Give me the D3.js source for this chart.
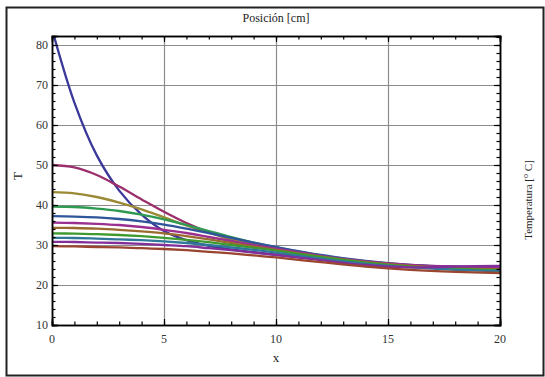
<!DOCTYPE html>
<html><head><meta charset="utf-8">
<script src="https://cdn.jsdelivr.net/npm/d3@7"></script>
<style>body{margin:0;background:#fff}svg{display:block}text{font-family:"Liberation Serif","Times New Roman","DejaVu Serif",serif}</style>
</head><body>
<svg id="c" width="545" height="377"></svg>
<script>
// ---- data ----
const xs = [0,1,2,3,4,5,6,7,8,9,10,12,14,16,18,20];
const s0  = [84,65.6,52.4,43.6,37.6,33.5,31.2,29.8,28.9,28.2,27.6,26.5,25.5,24.9,24.6,24.5];
const s1  = [50,49.4,47.5,44.6,41.4,38.3,35.5,33.2,31.4,29.9,28.8,27.0,25.6,24.8,24.5,24.4];
const s2  = [43.2,42.9,42.0,40.6,38.9,36.9,34.9,33.1,31.5,30.2,29.1,27.2,25.8,24.9,24.4,24.2];
const s3  = [39.6,39.5,39.1,38.5,37.6,36.4,35.0,33.5,32.0,30.6,29.4,27.4,25.9,24.9,24.4,24.2];
const s4  = [37.2,37.1,36.9,36.5,35.9,35.1,34.1,33.0,31.8,30.6,29.5,27.5,26.0,25.0,24.5,24.3];
const s5  = [35.6,35.5,35.3,35.0,34.5,33.8,33.0,32.0,31.0,30.0,29.1,27.3,25.9,25.0,24.6,24.5];
const s6  = [34.3,34.25,34.1,33.8,33.4,32.9,32.2,31.4,30.5,29.6,28.8,27.1,25.7,24.8,24.2,23.9];
const s7  = [32.9,32.85,32.7,32.5,32.2,31.8,31.3,30.7,30.0,29.3,28.6,27.0,25.6,24.6,24.0,23.7];
const s8  = [31.8,31.75,31.6,31.4,31.2,30.9,30.5,30.0,29.4,28.8,28.1,26.6,25.3,24.4,23.8,23.5];
const s9  = [30.8,30.75,30.6,30.5,30.3,30.0,29.7,29.2,28.7,28.1,27.5,26.2,25.0,24.4,24.6,24.8];
const s10 = [29.7,29.65,29.5,29.4,29.2,29.0,28.7,28.3,27.9,27.4,26.9,25.7,24.6,23.8,23.3,23.0];
const series = [s0,s1,s2,s3,s4,s5,s6,s7,s8,s9,s10];
const colors = ["#3a3899","#9a2f6c","#9a8a34","#2f9a52","#2f559a","#9a2f90","#9a6a2f","#3e9a2f","#2f789a","#822f9a","#9a452f"];
const xTicks = [0,5,10,15,20];
const yTicks = [10,20,30,40,50,60,70,80];
const xMinor = d3.range(0,21,1);
const yMinor = d3.range(10,83,2);
const xDomain = [0,20];
const yDomain = [10,82.25];

// ---- layout ----
const svg = d3.select("#c");
const L=52, R=500, T=36, B=325;
const x = d3.scaleLinear().domain(xDomain).range([L,R]);
const y = d3.scaleLinear().domain(yDomain).range([B,T]);

// outer border
svg.append("rect").attr("x",6.5).attr("y",7.5).attr("width",537).attr("height",368)
  .attr("fill","none").attr("stroke","#222").attr("stroke-width",2);

// grid
const g = svg.append("g");
g.selectAll("line.gx").data(xTicks.filter(d=>d>0&&d<20)).join("line")
  .attr("x1",d=>x(d)+0.5).attr("x2",d=>x(d)+0.5).attr("y1",T).attr("y2",B)
  .attr("stroke","#8c8c8c").attr("stroke-width",1.2);
g.selectAll("line.gy").data(yTicks.filter(d=>d>10)).join("line")
  .attr("y1",d=>Math.round(y(d))+0.5).attr("y2",d=>Math.round(y(d))+0.5).attr("x1",L).attr("x2",R)
  .attr("stroke","#8c8c8c").attr("stroke-width",1.2);

// curves
svg.append("clipPath").attr("id","clip").append("rect").attr("x",L).attr("y",T).attr("width",R-L).attr("height",B-T);
const line = d3.line().x((d,i)=>x(xs[i])).y(d=>y(d)).curve(d3.curveCatmullRom.alpha(0.5));
svg.append("g").attr("clip-path","url(#clip)").selectAll("path").data(series).join("path")
  .attr("d",line).attr("fill","none").attr("stroke",(d,i)=>colors[i]).attr("stroke-width",2.3);

// frame axes with inward ticks
const axB = d3.axisBottom(x).tickValues(xMinor).tickSize(-3.5).tickFormat("");
const axT = d3.axisTop(x).tickValues(xMinor).tickSize(-3.5).tickFormat("");
const axL = d3.axisLeft(y).tickValues(yMinor).tickSize(-3.5).tickFormat("");
const axR = d3.axisRight(y).tickValues(yMinor).tickSize(-3.5).tickFormat("");
const axBM = d3.axisBottom(x).tickValues(xTicks).tickSize(-6).tickFormat("");
const axTM = d3.axisTop(x).tickValues(xTicks).tickSize(-6).tickFormat("");
const axLM = d3.axisLeft(y).tickValues(yTicks).tickSize(-6).tickFormat("");
const axRM = d3.axisRight(y).tickValues(yTicks).tickSize(-6).tickFormat("");
[[axB,`translate(0,${B})`],[axBM,`translate(0,${B})`],[axT,`translate(0,${T})`],[axTM,`translate(0,${T})`],
 [axL,`translate(${L},0)`],[axLM,`translate(${L},0)`],[axR,`translate(${R},0)`],[axRM,`translate(${R},0)`]]
 .forEach(([a,t])=>{
   const gg = svg.append("g").attr("transform",t).call(a);
   gg.select(".domain").attr("stroke","#000").attr("stroke-width",1.5);
   gg.selectAll(".tick line").attr("stroke","#000").attr("stroke-width",1.2);
 });

// tick labels
svg.append("g").selectAll("text").data(xTicks).join("text")
  .attr("x",d=>x(d)).attr("y",B+18).attr("text-anchor","middle")
  .attr("font-size",12).attr("fill","#333").text(d=>d);
svg.append("g").selectAll("text").data(yTicks).join("text")
  .attr("x",L-4).attr("y",d=>y(d)+4).attr("text-anchor","end")
  .attr("font-size",12).attr("fill","#333").text(d=>d);

// axis titles
svg.append("text").attr("x",276).attr("y",22).attr("text-anchor","middle").attr("font-size",12).attr("fill","#222").text("Posición [cm]");
svg.append("text").attr("x",276).attr("y",362).attr("text-anchor","middle").attr("font-size",13).attr("fill","#222").text("x");
svg.append("text").attr("transform","translate(22,176) rotate(-90)").attr("text-anchor","middle").attr("font-size",13).attr("fill","#222").text("T");
const rt = svg.append("text").attr("transform","translate(532,200) rotate(-90)").attr("text-anchor","middle").attr("font-size",11).attr("fill","#222");
rt.append("tspan").text("Temperatura [");
rt.append("tspan").attr("dy",-4).attr("font-size",8).text("o");
rt.append("tspan").attr("dy",4).text(" C]");
</script>
</body></html>
